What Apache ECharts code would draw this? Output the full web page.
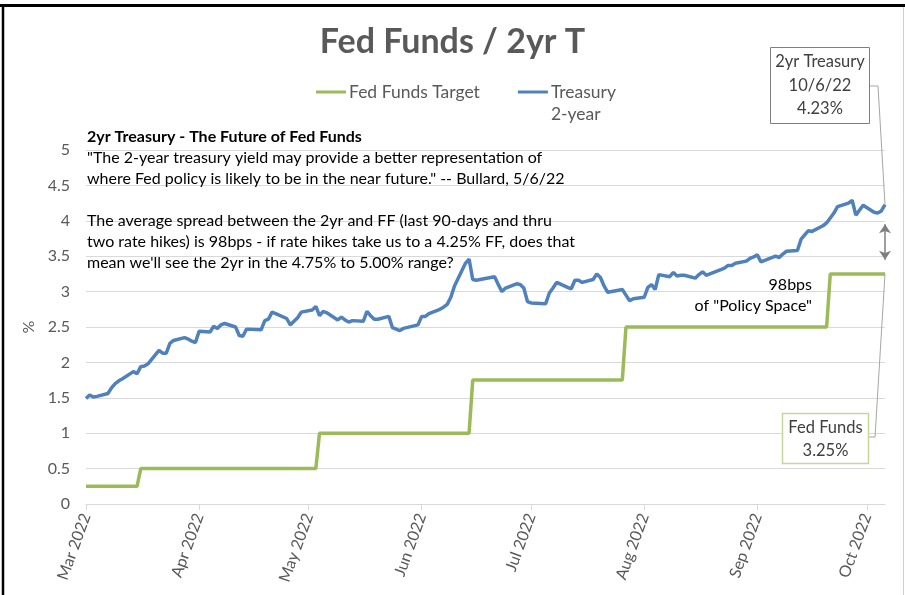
<!DOCTYPE html>
<html><head><meta charset="utf-8">
<script src="https://cdn.jsdelivr.net/npm/echarts/dist/echarts.min.js"></script>
<style>html,body{margin:0;padding:0;background:#fff}#c{width:905px;height:595px}</style>
</head><body><div id="c"></div>
<script>
// ---- data ----
const chartTitle = 'Fed Funds / 2yr T';
const seriesNames = ['Fed Funds Target', 'Treasury 2-year'];
const axisStart = '2022-03-01';
const axisEnd = '2022-10-06';
const yTicks = { min: 0, max: 5, interval: 0.5 };

const fedDates = ['2022-03-01','2022-03-15','2022-03-16','2022-05-03','2022-05-04','2022-06-14','2022-06-15','2022-07-26','2022-07-27','2022-09-20','2022-09-21','2022-10-06'];
const fedValues = [0.25,0.25,0.50,0.50,1.00,1.00,1.75,1.75,2.50,2.50,3.25,3.25];

const tsyDates = [
 '2022-03-01','2022-03-02','2022-03-03','2022-03-04','2022-03-07','2022-03-08','2022-03-09','2022-03-10','2022-03-11','2022-03-14','2022-03-15','2022-03-16','2022-03-17','2022-03-18','2022-03-21','2022-03-22','2022-03-23','2022-03-24','2022-03-25','2022-03-28','2022-03-29','2022-03-30','2022-03-31',
 '2022-04-01','2022-04-04','2022-04-05','2022-04-06','2022-04-07','2022-04-08','2022-04-11','2022-04-12','2022-04-13','2022-04-14','2022-04-18','2022-04-19','2022-04-20','2022-04-21','2022-04-22','2022-04-25','2022-04-26','2022-04-27','2022-04-28','2022-04-29',
 '2022-05-02','2022-05-03','2022-05-04','2022-05-05','2022-05-06','2022-05-09','2022-05-10','2022-05-11','2022-05-12','2022-05-13','2022-05-16','2022-05-17','2022-05-18','2022-05-19','2022-05-20','2022-05-23','2022-05-24','2022-05-25','2022-05-26','2022-05-27','2022-05-31',
 '2022-06-01','2022-06-02','2022-06-03','2022-06-06','2022-06-07','2022-06-08','2022-06-09','2022-06-10','2022-06-13','2022-06-14','2022-06-15','2022-06-16','2022-06-17','2022-06-21','2022-06-22','2022-06-23','2022-06-24','2022-06-27','2022-06-28','2022-06-29','2022-06-30',
 '2022-07-01','2022-07-05','2022-07-06','2022-07-07','2022-07-08','2022-07-11','2022-07-12','2022-07-13','2022-07-14','2022-07-15','2022-07-18','2022-07-19','2022-07-20','2022-07-21','2022-07-22','2022-07-25','2022-07-26','2022-07-27','2022-07-28','2022-07-29',
 '2022-08-01','2022-08-02','2022-08-03','2022-08-04','2022-08-05','2022-08-08','2022-08-09','2022-08-10','2022-08-11','2022-08-12','2022-08-15','2022-08-16','2022-08-17','2022-08-18','2022-08-19','2022-08-22','2022-08-23','2022-08-24','2022-08-25','2022-08-26','2022-08-29','2022-08-30','2022-08-31',
 '2022-09-01','2022-09-02','2022-09-06','2022-09-07','2022-09-08','2022-09-09','2022-09-12','2022-09-13','2022-09-14','2022-09-15','2022-09-16','2022-09-19','2022-09-20','2022-09-21','2022-09-22','2022-09-23','2022-09-26','2022-09-27','2022-09-28','2022-09-29','2022-09-30',
 '2022-10-03','2022-10-04','2022-10-05','2022-10-06'
];
const tsyValues = [
 1.49,1.54,1.51,1.52,1.56,1.64,1.70,1.74,1.77,1.87,1.84,1.94,1.95,1.98,2.17,2.13,2.13,2.27,2.31,2.35,2.33,2.30,2.28,
 2.44,2.43,2.51,2.48,2.53,2.55,2.50,2.38,2.37,2.47,2.46,2.59,2.61,2.71,2.69,2.62,2.53,2.58,2.63,2.71,
 2.74,2.79,2.66,2.72,2.70,2.60,2.64,2.60,2.57,2.59,2.58,2.72,2.66,2.61,2.61,2.65,2.49,2.47,2.45,2.48,2.53,
 2.65,2.65,2.69,2.75,2.78,2.82,2.92,3.08,3.40,3.46,3.17,3.16,3.17,3.21,3.10,3.00,3.05,3.11,3.10,3.05,2.86,
 2.84,2.83,2.98,3.05,3.13,3.06,3.04,3.16,3.16,3.13,3.17,3.25,3.20,3.08,2.99,3.02,3.03,2.95,2.87,2.90,
 2.92,3.06,3.10,3.03,3.24,3.21,3.27,3.22,3.23,3.23,3.19,3.24,3.28,3.23,3.25,3.31,3.33,3.37,3.37,3.40,3.43,3.47,3.49,
 3.52,3.42,3.50,3.48,3.53,3.57,3.58,3.74,3.80,3.86,3.85,3.93,3.97,4.04,4.11,4.20,4.25,4.29,4.08,4.15,4.22,
 4.12,4.11,4.14,4.23
];

const spreadArrow = [3.45, 3.95];
const noteLines = [
 ['b', '2yr Treasury - The Future of Fed Funds'],
 ['n', '"The 2-year treasury yield may provide a better representation of'],
 ['n', 'where Fed policy is likely to be in the near future." -- Bullard, 5/6/22'],
 ['n', ' '],
 ['n', 'The average spread between the 2yr and FF (last 90-days and thru'],
 ['n', 'two rate hikes) is 98bps - if rate hikes take us to a 4.25% FF, does that'],
 ['n', 'mean we\'ll see the 2yr in the 4.75% to 5.00% range?']
];
const spreadNote = ['98bps', 'of "Policy Space"'];
const tsyCallout = ['2yr Treasury', '10/6/22', '4.23%'];
const fedCallout = ['Fed Funds', '3.25%'];

// ---- helpers ----
function ts(s) { const p = s.split('-').map(Number); return new Date(p[0], p[1] - 1, p[2]).getTime(); }
const fedData = fedDates.map((d, i) => [ts(d), fedValues[i]]);
const tsyData = tsyDates.map((d, i) => [ts(d), tsyValues[i]]);
const lastTs = ts(axisEnd);

const FONT = 'Lato';
const GREEN = '#9bbb59', BLUE = '#4f81bd', GREY = '#595959';

const chart = echarts.init(document.getElementById('c'), null, { renderer: 'canvas' });
const option = {
  animation: false,
  backgroundColor: '#ffffff',
  title: {
    text: chartTitle, left: 'center', top: 20,
    textStyle: { fontFamily: FONT, fontSize: 34, fontWeight: 'bold', color: GREY }
  },
  legend: {
    top: 59, left: 316, padding: 0, itemWidth: 30, itemHeight: 12, itemGap: 38,
    icon: 'path://M0,5 L30,5 L30,8 L0,8 Z',
    textStyle: { fontFamily: FONT, fontSize: 17.5, color: GREY, lineHeight: 22, padding: [0, 0, 0, -2] },
    data: [ { name: seriesNames[0] }, { name: seriesNames[1] } ],
    formatter: n => n === seriesNames[1] ? ' \nTreasury\n2-year' : n
  },
  grid: { left: 86, right: 20, top: 150, bottom: 91, containLabel: false },
  xAxis: {
    type: 'time', min: ts(axisStart), max: lastTs,
    minInterval: 28 * 864e5, maxInterval: 31 * 864e5,
    axisLine: { lineStyle: { color: '#d9d9d9', width: 1 } },
    axisTick: { show: true, length: 6, lineStyle: { color: '#d9d9d9' } },
    splitLine: { show: false },
    axisLabel: {
      rotate: 70, margin: 10, fontFamily: FONT, fontSize: 16, color: GREY,
      formatter: '{MMM} {yyyy}', showMinLabel: true, showMaxLabel: false
    }
  },
  yAxis: {
    type: 'value', min: yTicks.min, max: yTicks.max, interval: yTicks.interval,
    name: '%', nameLocation: 'middle', nameGap: 46, nameRotate: 90,
    nameTextStyle: { fontFamily: FONT, fontSize: 16, color: GREY },
    axisLine: { show: false }, axisTick: { show: false },
    splitLine: { lineStyle: { color: '#d9d9d9', width: 1 } },
    axisLabel: { margin: 16, fontFamily: FONT, fontSize: 16, color: GREY }
  },
  series: [
    {
      name: seriesNames[0], type: 'line', data: fedData, showSymbol: false,
      lineStyle: { color: GREEN, width: 3.5 }, itemStyle: { color: GREEN }, z: 3
    },
    {
      name: seriesNames[1], type: 'line', data: tsyData, showSymbol: false,
      lineStyle: { color: BLUE, width: 3.5 }, itemStyle: { color: BLUE }, z: 4,
      markLine: {
        silent: true, symbol: ['arrow', 'arrow'], symbolSize: [9, 9],
        lineStyle: { color: '#7f7f7f', width: 1.5, type: 'solid' },
        label: { show: false },
        data: [[{ coord: [lastTs, spreadArrow[0]] }, { coord: [lastTs, spreadArrow[1]] }]]
      }
    }
  ]
};
chart.setOption(option);

const pT = chart.convertToPixel({ gridIndex: 0 }, [lastTs, tsyValues[tsyValues.length - 1]]);
const pF = chart.convertToPixel({ gridIndex: 0 }, [lastTs, fedValues[fedValues.length - 1]]);

const rich = {
  b: { fontFamily: FONT, fontSize: 16, fontWeight: 'bold', fill: '#000', lineHeight: 21 },
  n: { fontFamily: FONT, fontSize: 16, fill: '#000', lineHeight: 21 }
};
chart.setOption({
  graphic: [
    { type: 'line', shape: { x1: 0, y1: 5.5, x2: 905, y2: 5.5 }, style: { stroke: '#000', lineWidth: 3 }, silent: true },
    { type: 'line', shape: { x1: 3, y1: 4, x2: 3, y2: 595 }, style: { stroke: '#000', lineWidth: 2.5 }, silent: true },
    { type: 'line', shape: { x1: 903.5, y1: 7, x2: 903.5, y2: 595 }, style: { stroke: '#d0d0d0', lineWidth: 1 }, silent: true },
    {
      type: 'text', left: 87, top: 129, silent: true, z: 10,
      style: { text: noteLines.map(l => '{' + l[0] + '|' + l[1] + '}').join('\n'), rich: rich, fontFamily: FONT, fontSize: 16, fill: '#000' }
    },
    {
      type: 'text', x: 812, y: 274, silent: true, z: 10,
      style: { text: spreadNote.join('\n'), align: 'right', verticalAlign: 'top', fontFamily: FONT, fontSize: 16, lineHeight: 21, fill: '#000' }
    },
    {
      type: 'polyline', silent: true, z: 9,
      shape: { points: [[869, 86], [878, 86], [pT[0], pT[1]]] },
      style: { stroke: '#a6a6a6', lineWidth: 1, fill: null }
    },
    {
      type: 'rect', silent: true, z: 10,
      shape: { x: 770.5, y: 47.5, width: 99, height: 76 },
      style: { fill: '#fff', stroke: '#7f7f7f', lineWidth: 1 }
    },
    {
      type: 'text', x: 820, y: 50, silent: true, z: 11,
      style: { text: tsyCallout.join('\n'), align: 'center', verticalAlign: 'top', fontFamily: FONT, fontSize: 16.5, lineHeight: 23.5, fill: '#404040' }
    },
    {
      type: 'polyline', silent: true, z: 9,
      shape: { points: [[868, 437], [875, 437], [pF[0], pF[1]]] },
      style: { stroke: '#a6a6a6', lineWidth: 1, fill: null }
    },
    {
      type: 'rect', silent: true, z: 10,
      shape: { x: 782.5, y: 413.5, width: 86, height: 50 },
      style: { fill: '#fff', stroke: '#c3d69b', lineWidth: 1.5 }
    },
    {
      type: 'text', x: 825.5, y: 416, silent: true, z: 11,
      style: { text: fedCallout.join('\n'), align: 'center', verticalAlign: 'top', fontFamily: FONT, fontSize: 16.5, lineHeight: 23, fill: '#404040' }
    }
  ]
});
</script>
</body></html>
